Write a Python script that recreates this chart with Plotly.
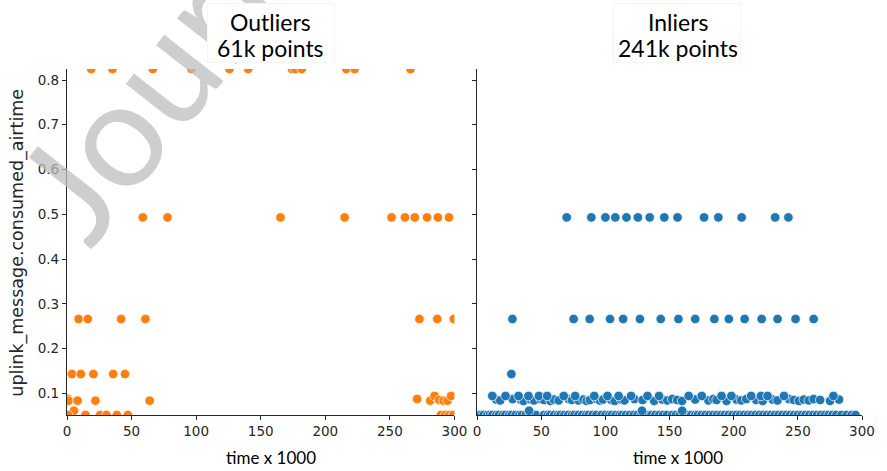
import plotly.graph_objects as go

# ---------------- data ----------------
Y_MIN = 0.0515
Y_MAX = 0.8246

# Outliers (orange)
out_top_x = [18.7, 35.2, 66.4, 96.4, 125.8, 140.3, 174.2, 176.7, 181.8, 216.3, 222.7, 266.0]
out_top_y = [Y_MAX] * len(out_top_x)
out_05_x = [58.7, 77.8, 165.3, 215.0, 251.3, 261.7, 269.3, 278.8, 287.2, 295.8]
out_05_y = [0.493] * len(out_05_x)
out_027_x = [9.0, 16.1, 41.9, 60.7, 272.9, 286.7, 299.5]
out_027_y = [0.266] * len(out_027_x)
out_014_x = [3.8, 10.7, 20.4, 35.7, 44.9]
out_014_y = [0.143] * len(out_014_x)
out_low_x = [0.6, 1.3, 8.2, 22.0, 64.0, 5.4, 271.1, 281.3, 284.6, 288.2, 291.5, 294.6, 297.4]
out_low_y = [0.088, 0.0835, 0.0835, 0.0835, 0.0835, 0.061, 0.0873, 0.0835, 0.094, 0.085, 0.0835, 0.0835, 0.094]
out_bot_x = [0.8, 14.3, 25.6, 30.6, 38.6, 47.1, 289.5, 293.0, 296.0, 299.0]
out_bot_y = [Y_MIN] * len(out_bot_x)

# Inliers (blue)
in_05_x = [69.8, 89.0, 100.0, 107.7, 116.4, 125.3, 134.5, 145.9, 156.2, 176.9, 188.0, 206.2, 232.3, 242.6]
in_05_y = [0.493] * len(in_05_x)
in_027_x = [27.5, 75.2, 87.7, 103.6, 113.8, 126.9, 143.1, 156.9, 170.0, 184.9, 196.2, 208.5,
            221.8, 234.2, 248.2, 262.3]
in_027_y = [0.266] * len(in_027_x)
in_014_x = [26.7]
in_014_y = [0.143]
in_hi_x = [11.8, 22.1, 32.3, 40.0, 48.2, 54.6, 67.5, 76.4, 91.3, 101.6, 110.3, 120.0, 132.8, 141.8,
           164.9, 175.1, 190.5, 198.2, 213.6, 221.3, 226.4, 239.2, 277.7]
in_hi_y = [0.094] * len(in_hi_x)
in_mid_x = [14.9, 18.0, 27.7, 34.1, 36.2, 41.8, 44.4, 49.5, 52.1, 57.2, 59.8, 63.6, 71.3, 73.9,
            79.0, 82.8, 85.4, 88.0, 93.1, 95.7, 98.2, 104.6, 107.2, 112.3, 114.9, 122.6, 129.0,
            138.0, 144.4, 148.2, 152.1, 155.9, 159.7, 170.0, 180.3, 184.1, 186.7, 194.4, 202.1,
            205.9, 209.8, 217.5, 222.6, 230.3, 234.1, 243.1, 246.9, 250.8, 254.6, 258.5, 262.3,
            267.4, 275.1, 282.1]
in_mid_y = [0.086, 0.084, 0.087, 0.085, 0.083, 0.086, 0.084, 0.087, 0.085, 0.083, 0.086, 0.084,
            0.087, 0.085, 0.084, 0.086, 0.083, 0.085, 0.087, 0.084, 0.086, 0.085, 0.083, 0.086,
            0.084, 0.087, 0.085, 0.083, 0.086, 0.084, 0.087, 0.085, 0.083, 0.086, 0.084, 0.087,
            0.085, 0.083, 0.086, 0.084, 0.087, 0.085, 0.083, 0.086, 0.084, 0.087, 0.085, 0.083,
            0.086, 0.084, 0.087, 0.085, 0.083, 0.086]
in_006_x = [40.5, 128.5, 159.8]
in_006_y = [0.061, 0.061, 0.061]
in_bot_x = [1, 3, 5, 8, 10, 12, 15, 17, 20, 22, 25, 27, 30, 33, 35, 38, 41, 44, 46, 52, 55, 57, 60,
            63, 65, 68, 71, 74, 76, 79, 82, 85, 87, 90, 93, 97, 100, 103, 105, 108, 111, 113, 116,
            119, 122, 125, 128, 131, 134, 136, 139, 142, 145, 148, 152, 155, 158, 161, 164, 167,
            170, 172, 175, 178, 181, 184, 187, 190, 193, 196, 199, 202, 205, 208, 211, 214, 217,
            220, 223, 226, 229, 232, 235, 238, 241, 244, 247, 250, 253, 256, 259, 262, 265, 268,
            271, 274, 277, 280, 284, 288, 292, 295]
in_bot_y = [Y_MIN] * len(in_bot_x)

x_ticks = [0, 50, 100, 150, 200, 250, 300]
y_ticks = [0.1, 0.2, 0.3, 0.4, 0.5, 0.6, 0.7, 0.8]
y_tick_labels = ["0.1", "0.2", "0.3", "0.4", "0.5", "0.6", "0.7", "0.8"]
title_lines = [["Outliers", "61k points"], ["Inliers", "241k points"]]
x_title = "time x 1000"
y_title = "uplink_message.consumed_airtime"
watermark = "Journal Pre-proof"

ORANGE = "#ff7f0e"
BLUE = "#1f77b4"

# ---------------- figure ----------------
W, H = 887, 471
ML, MR, MT, MB = 67, 15, 69, 56
PW = W - ML - MR
PH = H - MT - MB


def px2x(px):
    return (px - ML) / PW


def py2y(py):
    return (H - MB - py) / PH


fig = go.Figure()

marker_common = dict(size=9.5, line=dict(color="white", width=0.7))

out_x = out_top_x + out_05_x + out_027_x + out_014_x + out_low_x + out_bot_x
out_y = out_top_y + out_05_y + out_027_y + out_014_y + out_low_y + out_bot_y
in_x = in_bot_x + in_006_x + in_mid_x + in_hi_x + in_014_x + in_027_x + in_05_x
in_y = in_bot_y + in_006_y + in_mid_y + in_hi_y + in_014_y + in_027_y + in_05_y

fig.add_trace(go.Scatter(x=out_x, y=out_y, mode="markers", xaxis="x", yaxis="y",
                         marker=dict(color=ORANGE, **marker_common), showlegend=False))
fig.add_trace(go.Scatter(x=in_x, y=in_y, mode="markers", xaxis="x2", yaxis="y2",
                         marker=dict(color=BLUE, **marker_common), showlegend=False))

axis_common = dict(showline=True, linecolor="#262626", linewidth=1.2, ticks="outside",
                   ticklen=4, tickwidth=1.1, tickcolor="#262626", showgrid=False,
                   zeroline=False, mirror=False,
                   tickfont=dict(family="DejaVu Sans", size=13.5, color="#262626"))

fig.update_layout(
    width=W, height=H,
    margin=dict(l=ML, r=MR, t=MT, b=MB),
    paper_bgcolor="white", plot_bgcolor="white",
    xaxis=dict(domain=[0, px2x(459.3)], range=[0, 300], tickvals=x_ticks, anchor="y",
               ticktext=[str(v) for v in x_ticks], **axis_common),
    yaxis=dict(domain=[0, 1], range=[Y_MIN, Y_MAX], tickvals=y_ticks, ticktext=y_tick_labels,
               anchor="x", **axis_common),
    xaxis2=dict(domain=[px2x(482.3), 1], range=[0, 300], tickvals=x_ticks, anchor="y2",
                ticktext=[str(v) for v in x_ticks], **axis_common),
    yaxis2=dict(domain=[0, 1], range=[Y_MIN, Y_MAX], tickvals=y_ticks, showticklabels=False,
                anchor="x2", **axis_common),
)

annotations = []
# watermark
annotations.append(dict(text=watermark, x=px2x(398), y=py2y(-230), xref="paper", yref="paper",
                        showarrow=False, textangle=-52, xanchor="center", yanchor="middle",
                        font=dict(family="Lato", size=148, color="rgba(190,190,190,0.75)")))
# white boxes behind the titles
for cx in [273.5, 685]:
    annotations.append(dict(text=" ", x=px2x(cx), y=py2y(33), xref="paper", yref="paper",
                            showarrow=False, xanchor="center", yanchor="middle",
                            width=126, height=58, bgcolor="white", bordercolor="#f5f5f5",
                            borderwidth=1, borderpad=0, font=dict(size=10)))
# two-line titles
for lines, cx in zip(title_lines, [273, 686]):
    for txt, cy in zip(lines, [22, 48]):
        annotations.append(dict(text=txt, x=px2x(cx), y=py2y(cy), xref="paper", yref="paper",
                                showarrow=False, xanchor="center", yanchor="middle",
                                font=dict(family="Lato", size=23, color="black")))
# x titles
for cx in [274, 685.5]:
    annotations.append(dict(text=x_title, x=px2x(cx), y=py2y(458), xref="paper", yref="paper",
                            showarrow=False, xanchor="center", yanchor="middle",
                            font=dict(family="Lato", size=17, color="black")))
# y title
annotations.append(dict(text=y_title, x=px2x(16), y=py2y(243), xref="paper", yref="paper",
                        showarrow=False, xanchor="center", yanchor="middle", textangle=-90,
                        font=dict(family="DejaVu Sans", size=17.5, color="#262626")))
fig.update_layout(annotations=annotations)

fig.write_html("out.html", config={"displayModeBar": False},
               post_script="document.body.style.margin='0px';")
